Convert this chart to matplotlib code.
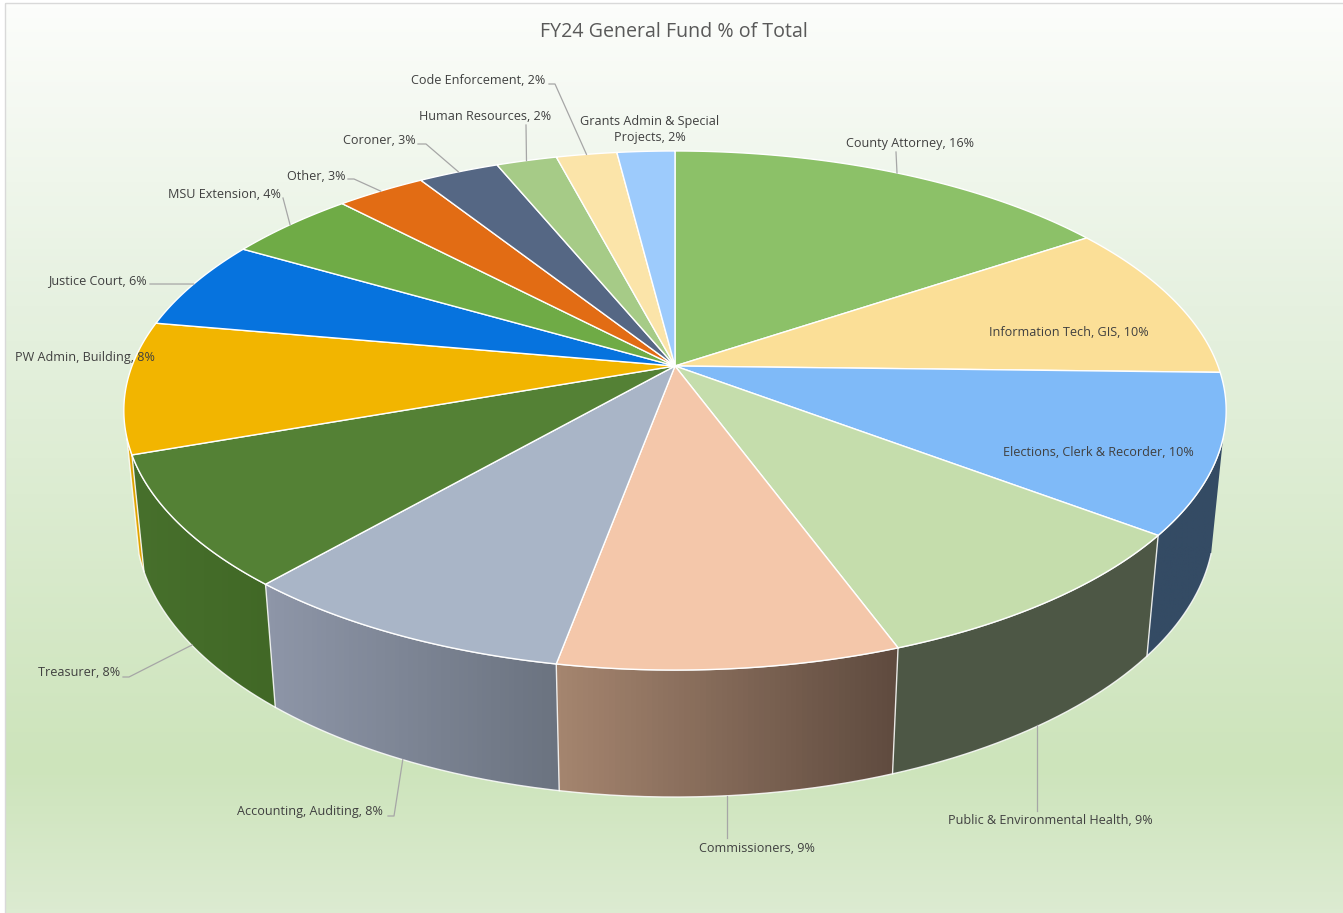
import numpy as np
import matplotlib
matplotlib.use('Agg')
import matplotlib.pyplot as plt
from matplotlib.patches import Polygon, Rectangle
from matplotlib.colors import LinearSegmentedColormap

title = 'FY24 General Fund % of Total'

names = ['County Attorney', 'Information Tech, GIS', 'Elections, Clerk & Recorder',
         'Public & Environmental Health', 'Commissioners', 'Accounting, Auditing',
         'Treasurer', 'PW Admin, Building', 'Justice Court', 'MSU Extension', 'Other',
         'Coroner', 'Human Resources', 'Code Enforcement', 'Grants Admin & Special\nProjects']
values = [15.6, 9.8, 9.9, 9.1, 8.51, 8.49, 8.2, 8.2, 5.6, 4.5, 3.1, 2.8, 2.1, 2.1, 2.0]

top_colors = ['#8CC168', '#FBDF97', '#7FBAF8', '#C5DDAC', '#F4C7AA', '#A9B5C7', '#548135', '#F2B500',
              '#0673DE', '#6FAB46', '#E26C14', '#556784', '#A6CB87', '#FBE4A9', '#9DCBFC']
# side wall gradient, left colour then right colour
wall_colors = {2: ('#344B64', '#344B64'), 3: ('#4D5745', '#4D5745'), 4: ('#A5856F', '#5F4B3F'),
               5: ('#8E96A8', '#6B7380'), 6: ('#47702C', '#416826'), 7: ('#DFA400', '#DFA400')}

# label centres, with optional elbow point of the leader line
label_xy = [(910, 144), (1069, 332), (1098, 453), (1050, 821), (757, 848), (310, 812), (79, 673),
            (85, 357), (97, 281), (224, 195), (316, 176), (379, 141), (485, 117), (478, 81), (650, 130)]
leader_paths = {0: [(896, 152)], 3: [(1037, 811)], 4: [(727, 838)], 5: [(388, 816), (394, 816)],
                6: [(123, 677), (129, 677)], 8: [(150, 284)], 9: [(283, 198)],
                10: [(348, 179), (354, 179)], 11: [(418, 144), (426, 144)], 12: [(526, 125)],
                13: [(549, 84), (555, 84)]}
# where the mid angle misses the leader end in the picture
rim_override = {3: (1037, 725), 4: (727, 796), 6: (192, 645)}

# perspective of the disc, fitted on the picture
CX, CY = 675, 366
A, B, K = 251.9, 543.0, 0.1715
DEPTH, M = 114.4, 0.0213
WALL_START, WALL_END = 105.8, 254.2

bg_stops = [(0.0, '#FCFDFB'), (0.33, '#E6F1E0'), (0.5, '#DEEDD4'), (0.84, '#CDE4BB'), (1.0, '#DCEBD1')]
text_color = '#404040'
leader_color = '#A6A6A6'
font = 'Open Sans'


def project(deg, bottom=False):
    """Screen position of a rim point, deg clockwise from the back of the pie."""
    t = np.radians(deg)
    u, v = np.sin(t), np.cos(t)
    if bottom:
        w = 1 + K * v + M
        return CX + B * u / w, CY - (A * v - DEPTH) / w
    w = 1 + K * v
    return CX + B * u / w, CY - A * v / w


def arc(a0, a1, bottom=False):
    x, y = project(np.linspace(a0, a1, 80), bottom)
    return np.column_stack([x, y])


fig = plt.figure(figsize=(13.43, 9.13), dpi=100)
ax = fig.add_axes([0, 0, 1, 1])
ax.set_axis_off()

# chart background
bg_cmap = LinearSegmentedColormap.from_list('bg', bg_stops)
ax.imshow(np.linspace(0, 1, 256).reshape(-1, 1), cmap=bg_cmap, extent=(5, 1343, 913, 4), aspect='auto', zorder=0)
ax.add_patch(Rectangle((4.5, 3.5), 1345, 915, fill=False, edgecolor='#D9D9D9', linewidth=1, zorder=1))

edges = np.concatenate([[0], np.cumsum(values)]) * 360 / np.sum(values)
mids = (edges[:-1] + edges[1:]) / 2

# side walls
for i, (c_left, c_right) in wall_colors.items():
    a0 = max(edges[i], WALL_START)
    a1 = min(edges[i + 1], WALL_END)
    pts = np.vstack([arc(a0, a1), arc(a0, a1, bottom=True)[::-1]])
    cmap = LinearSegmentedColormap.from_list('wall%d' % i, [c_right, c_left])
    # angle runs right to left along the front, so the gradient is flipped
    poly = Polygon(pts, closed=True, facecolor='none', edgecolor='none', zorder=2)
    ax.add_patch(poly)
    im = ax.imshow(np.linspace(1, 0, 64).reshape(1, -1), cmap=cmap, vmin=0, vmax=1, aspect='auto', zorder=2,
                   extent=(pts[:, 0].min(), pts[:, 0].max(), pts[:, 1].max(), pts[:, 1].min()))
    im.set_clip_path(poly)
    ax.plot(pts[:, 0], pts[:, 1], color='white', lw=1.0, alpha=0.85, zorder=3, solid_joinstyle='round')

# top of the pie
for i, color in enumerate(top_colors):
    pts = np.vstack([[(CX, CY)], arc(edges[i], edges[i + 1])])
    ax.add_patch(Polygon(pts, closed=True, facecolor=color, edgecolor='white', linewidth=1.0, zorder=4,
                         joinstyle='round'))

# leaders run from the label to the rim at the middle of the slice
for i, path in leader_paths.items():
    on_wall = WALL_START < mids[i] < WALL_END
    rim = rim_override.get(i, project(mids[i], bottom=on_wall))
    xs = [p[0] for p in path] + [rim[0]]
    ys = [p[1] for p in path] + [rim[1]]
    ax.plot(xs, ys, color=leader_color, lw=0.9, zorder=5)

for name, val, (x, y) in zip(names, values, label_xy):
    ax.text(x, y, '%s, %d%%' % (name, round(val)), ha='center', va='center', color=text_color,
            fontsize=9.1, family=font, linespacing=1.3, zorder=6)

ax.text(674, 32, title, ha='center', va='center', color='#595959', fontsize=14.1, family=font, zorder=6)

ax.set_xlim(0, 1343)
ax.set_ylim(913, 0)

plt.savefig('out.png', dpi=100)
